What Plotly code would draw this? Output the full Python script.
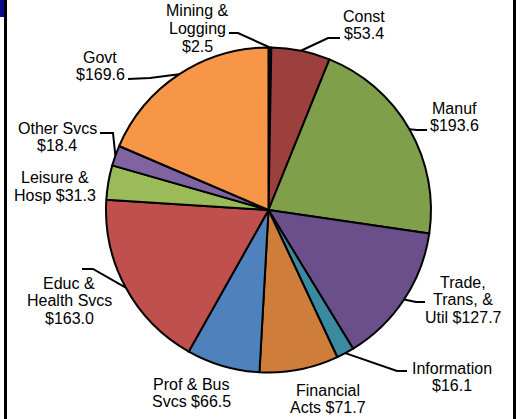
import math
import plotly.graph_objects as go

# ---- data ----
sectors = ["Mining & Logging", "Const", "Manuf", "Trade, Trans, & Util", "Information",
           "Financial Acts", "Prof & Bus Svcs", "Educ & Health Svcs", "Leisure & Hosp",
           "Other Svcs", "Govt"]
values = [2.5, 53.4, 193.6, 127.7, 16.1, 71.7, 66.5, 163.0, 31.3, 18.4, 169.6]
label_lines = [
    ["Mining &", "Logging", "$2.5"],
    ["Const", "$53.4"],
    ["Manuf", "$193.6"],
    ["Trade,", "Trans, &", "Util $127.7"],
    ["Information", "$16.1"],
    ["Financial", "Acts $71.7"],
    ["Prof & Bus", "Svcs $66.5"],
    ["Educ &", "Health Svcs", "$163.0"],
    ["Leisure &", "Hosp $31.3"],
    ["Other Svcs", "$18.4"],
    ["Govt", "$169.6"],
]

# ---- styles / layout ----
colors = ["#243F60", "#9C403E", "#7F9F4B", "#6A4F8A", "#3A8BA0", "#CE7E3A",
          "#4F81BD", "#C0504D", "#9BBB59", "#8064A2", "#F79646"]
W, H = 521, 419
CX, CY, R = 268.5, 210.0, 162.5
FONT = dict(family="Liberation Sans, Arial, sans-serif", size=16, color="#000000")
LINE_GAP = 17.5
# label centre (x, first-line y) in pixels
label_pos = [(197, 11), (364, 16), (454, 108), (463, 282), (452, 368), (328, 390),
             (191, 384), (69, 283), (55, 178), (57, 128), (100, 57)]
# leader line points after the arc point (None = no leader)
leaders = [[(238, 33), (229, 33)], [(328, 38), (340, 38)], [(417, 130), (427, 130)],
           [(416, 302), (425, 302)], [(397, 371), (407, 371)], None, None,
           [(93, 269), (82, 269)], None, [(113, 133), (100, 133)], [(150, 78), (128, 79)]]


def px(x):
    return x / W


def py(y):
    return 1 - y / H


fig = go.Figure(go.Pie(
    labels=sectors, values=values, sort=False, direction="clockwise", rotation=0,
    marker=dict(colors=colors, line=dict(color="#000000", width=2)),
    textinfo="none", hoverinfo="label+value", showlegend=False,
    domain=dict(x=[px(CX - R), px(CX + R)], y=[1 - (CY + R) / H, 1 - (CY - R) / H]),
))

total = sum(values)
cum = 0.0
shapes = []
annotations = []
for i, v in enumerate(values):
    mid = (cum + v / 2) / total * 2 * math.pi
    cum += v
    ax, ay = CX + R * math.sin(mid), CY - R * math.cos(mid)
    if leaders[i]:
        pts = [(ax, ay)] + leaders[i]
        path = "M " + " L ".join(f"{px(x):.5f},{py(y):.5f}" for x, y in pts)
        shapes.append(dict(type="path", path=path, xref="paper", yref="paper",
                           line=dict(color="#000000", width=2)))
    lx, ly = label_pos[i]
    for k, t in enumerate(label_lines[i]):
        annotations.append(dict(text=t, x=px(lx), y=py(ly + k * LINE_GAP), xref="paper",
                                yref="paper", xanchor="center", yanchor="middle",
                                showarrow=False, font=FONT))

# frame pieces
shapes += [
    dict(type="rect", xref="paper", yref="paper", x0=0, x1=px(4), y0=py(17), y1=1,
         fillcolor="#0A0A8A", line=dict(width=0)),
    dict(type="rect", xref="paper", yref="paper", x0=px(4), x1=px(7), y0=0, y1=1,
         fillcolor="#000000", line=dict(width=0)),
    dict(type="rect", xref="paper", yref="paper", x0=px(513), x1=px(516), y0=0, y1=1,
         fillcolor="#000000", line=dict(width=0)),
]

fig.update_layout(width=W, height=H, margin=dict(l=0, r=0, t=0, b=0),
                  paper_bgcolor="#FFFFFF", plot_bgcolor="#FFFFFF",
                  shapes=shapes, annotations=annotations)
fig.write_html("out.html", config={"displayModeBar": False},
               post_script="document.body.style.margin='0';document.body.style.overflow='hidden';")
